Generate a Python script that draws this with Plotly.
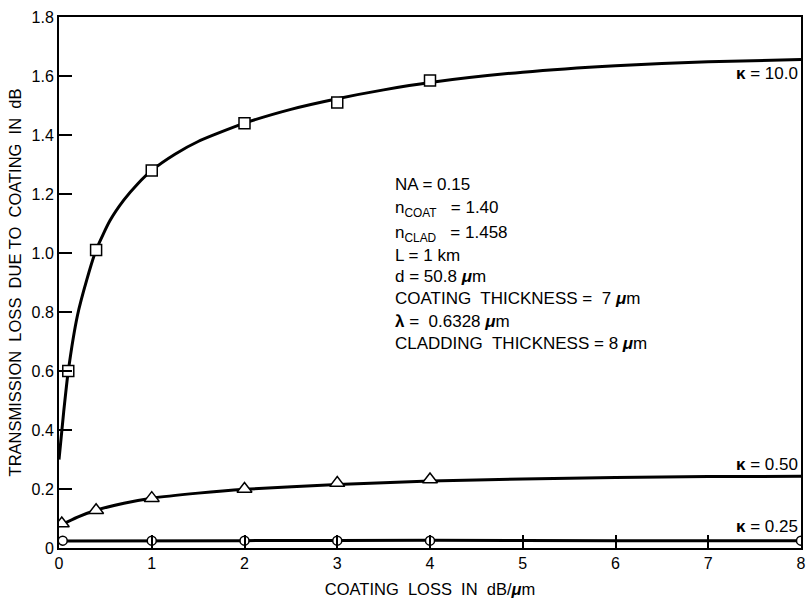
import plotly.graph_objects as go

# ---- data ----
# smooth fitted curves
k10_curve_x = [0, 0.05, 0.1, 0.2, 0.3, 0.4, 0.55, 0.7, 0.85, 1.0, 1.25, 1.5, 2.0, 2.5, 3.0, 3.5, 4.0, 5.0, 6.0, 7.0, 8.0]
k10_curve_y = [0.30, 0.46, 0.60, 0.79, 0.91, 1.01, 1.11, 1.18, 1.235, 1.28, 1.335, 1.378, 1.44, 1.487, 1.523, 1.553, 1.578, 1.613, 1.635, 1.648, 1.656]
k05_curve_x = [0, 0.2, 0.4, 0.7, 1.0, 1.5, 2.0, 3.0, 4.0, 5.0, 6.0, 7.0, 8.0]
k05_curve_y = [0.075, 0.105, 0.128, 0.152, 0.169, 0.186, 0.199, 0.215, 0.227, 0.234, 0.239, 0.242, 0.243]
k025_curve_x = [0, 2.0, 4.0, 6.0, 8.0]
k025_curve_y = [0.024, 0.025, 0.026, 0.025, 0.025]

# measured points
k10_pts_x = [0.1, 0.4, 1.0, 2.0, 3.0, 4.0]
k10_pts_y = [0.60, 1.01, 1.28, 1.44, 1.51, 1.585]
k05_pts_x = [0.03, 0.4, 1.0, 2.0, 3.0, 4.0]
k05_pts_y = [0.083, 0.128, 0.169, 0.200, 0.220, 0.232]
k025_pts_x = [0.04, 1.0, 2.0, 3.0, 4.0, 8.0]
k025_pts_y = [0.025, 0.025, 0.025, 0.025, 0.025, 0.025]

x_ticks = [0, 1, 2, 3, 4, 5, 6, 7, 8]
x_ticktext = ["0", "1", "2", "3", "4", "5", "6", "7", "8"]
y_ticks = [0, 0.2, 0.4, 0.6, 0.8, 1.0, 1.2, 1.4, 1.6, 1.8]
y_ticktext = ["0", "0.2", "0.4", "0.6", "0.8", "1.0", "1.2", "1.4", "1.6", "1.8"]

curve_labels = ["<b>κ</b> = 10.0", "<b>κ</b> = 0.50", "<b>κ</b> = 0.25"]
curve_label_y = [1.61, 0.284, 0.074]

param_lines = [
    "NA = 0.15",
    "n<sub>COAT</sub>\u00a0\u00a0 = 1.40",
    "n<sub>CLAD</sub>\u00a0\u00a0 = 1.458",
    "L = 1 km",
    "d = 50.8 <b><i>μ</i></b>m",
    "COATING\u00a0 THICKNESS = \u00a07 <b><i>μ</i></b>m",
    "<b>λ</b> = \u00a00.6328 <b><i>μ</i></b>m",
    "CLADDING\u00a0 THICKNESS = 8 <b><i>μ</i></b>m",
]
param_y = [1.233, 1.149, 1.064, 0.990, 0.922, 0.845, 0.767, 0.693]

FONT = "Liberation Sans, Arial, sans-serif"

fig = go.Figure()

line_style = dict(color="black", width=3, shape="spline", smoothing=0.6)
for cx, cy in [(k10_curve_x, k10_curve_y), (k05_curve_x, k05_curve_y), (k025_curve_x, k025_curve_y)]:
    fig.add_trace(go.Scatter(x=cx, y=cy, mode="lines", line=line_style,
                             hoverinfo="skip", showlegend=False))

fig.add_trace(go.Scatter(x=k10_pts_x, y=k10_pts_y, mode="markers",
                         marker=dict(symbol="square", size=11, color="white", line=dict(width=1.5, color="black")),
                         showlegend=False))
fig.add_trace(go.Scatter(x=k05_pts_x, y=k05_pts_y, mode="markers",
                         marker=dict(symbol="triangle-up", size=13, color="white", line=dict(width=1.5, color="black")),
                         showlegend=False))
fig.add_trace(go.Scatter(x=k025_pts_x, y=k025_pts_y, mode="markers",
                         marker=dict(symbol="circle", size=9, color="white", line=dict(width=1.5, color="black")),
                         showlegend=False))

annotations = []
for t, yy in zip(curve_labels, curve_label_y):
    annotations.append(dict(x=7.985, y=yy, xref="x", yref="y", text=t, showarrow=False,
                            xanchor="right", yanchor="middle",
                            font=dict(family=FONT, size=17, color="black")))
for t, yy in zip(param_lines, param_y):
    annotations.append(dict(x=3.6, y=yy, xref="x", yref="y", text=t, showarrow=False,
                            xanchor="left", yanchor="middle", align="left",
                            font=dict(family=FONT, size=17, color="black")))

fig.update_layout(
    width=808, height=598,
    margin=dict(l=59, r=2, t=17, b=48),
    paper_bgcolor="white", plot_bgcolor="white",
    font=dict(family=FONT, color="black", size=16),
    annotations=annotations,
    showlegend=False,
)
fig.update_xaxes(
    range=[0, 8], tickvals=x_ticks, ticktext=x_ticktext,
    ticks="inside", ticklen=13, tickwidth=1.5, tickcolor="black",
    showline=True, linecolor="black", linewidth=2, mirror=True,
    showgrid=False, zeroline=False, ticklabeloverflow="allow",
    tickfont=dict(family=FONT, size=16, color="black"),
    title=dict(text="COATING\u00a0 LOSS\u00a0 IN\u00a0 dB/<b><i>μ</i></b>m", standoff=12,
               font=dict(family=FONT, size=16.5, color="black")),
)
fig.update_yaxes(
    range=[0, 1.8], tickvals=y_ticks, ticktext=y_ticktext,
    ticks="inside", ticklen=13, tickwidth=1.5, tickcolor="black",
    showline=True, linecolor="black", linewidth=2, mirror=True,
    showgrid=False, zeroline=False,
    tickfont=dict(family=FONT, size=16, color="black"),
    title=dict(text="TRANSMISSION\u00a0 LOSS\u00a0 DUE TO\u00a0 COATING\u00a0 IN\u00a0 dB", standoff=6,
               font=dict(family=FONT, size=16.5, color="black")),
)

fig.write_html("out.html")
